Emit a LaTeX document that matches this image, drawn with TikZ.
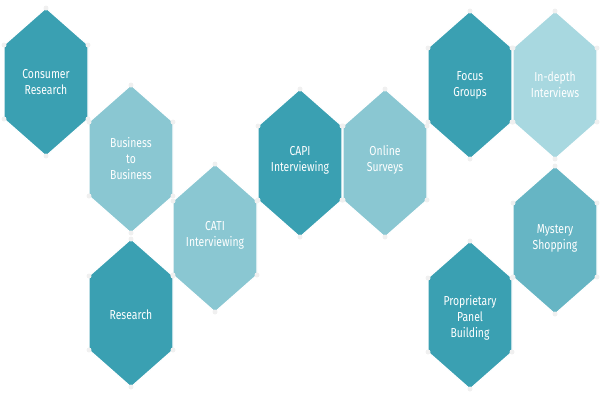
\documentclass[tikz,border=0pt]{standalone}
\usepackage{fontspec}
\setmainfont{Fira Sans}
\definecolor{hexdark}{HTML}{3AA0B2}
\definecolor{hexlight}{HTML}{8AC7D2}
\definecolor{hexpale}{HTML}{A8D8E0}
\definecolor{hexmid}{HTML}{66B5C4}
\tikzset{HexText/.style = {text = white, align = center, font = \fontsize{13}{16}\selectfont\addfontfeatures{FakeStretch=0.8}},
 HexEdge/.style = {draw = white, line width = 1.2pt}}
\newcommand{\hexcell}[3]{%
 \fill[#3, HexEdge] (#1,#2-74) -- (#1+42,#2-37) -- (#1+42,#2+37) -- (#1,#2+74)
   -- (#1-42,#2+37) -- (#1-42,#2-37) -- cycle;
 \foreach \vx/\vy in {0/-74, 42/-37, 42/37, 0/74, -42/37, -42/-37}
   \fill[gray!12] (#1+\vx,#2+\vy) circle (2.5);
}
\begin{document}
\begin{tikzpicture}[x=1pt,y=-1pt]
\useasboundingbox (0,0) rectangle (600,400);

\hexcell{46}{82}{hexdark}
\hexcell{131}{159}{hexlight}
\hexcell{131}{313}{hexdark}
\hexcell{215}{238}{hexlight}
\hexcell{300}{163}{hexdark}
\hexcell{385}{163}{hexlight}
\hexcell{470}{85}{hexdark}
\hexcell{555}{85}{hexpale}
\hexcell{555}{240}{hexmid}
\hexcell{470}{315}{hexdark}

\node[HexText] (Consumer) at (46,82) {Consumer\\Research};
\node[HexText] (B2B) at (131,159) {Business\\to\\Business};
\node[HexText] (Research) at (131,315) {Research};
\node[HexText] (CATI) at (215,235) {CATI\\Interviewing};
\node[HexText] (CAPI) at (300,160) {CAPI\\Interviewing};
\node[HexText] (Online) at (385,160) {Online\\Surveys};
\node[HexText] (Focus) at (470,85) {Focus\\Groups};
\node[HexText] (Indepth) at (555,85) {In-depth\\Interviews};
\node[HexText] (Mystery) at (555,238) {Mystery\\Shopping};
\node[HexText] (Panel) at (470,318) {Proprietary\\Panel\\Building};

\end{tikzpicture}
\end{document}
